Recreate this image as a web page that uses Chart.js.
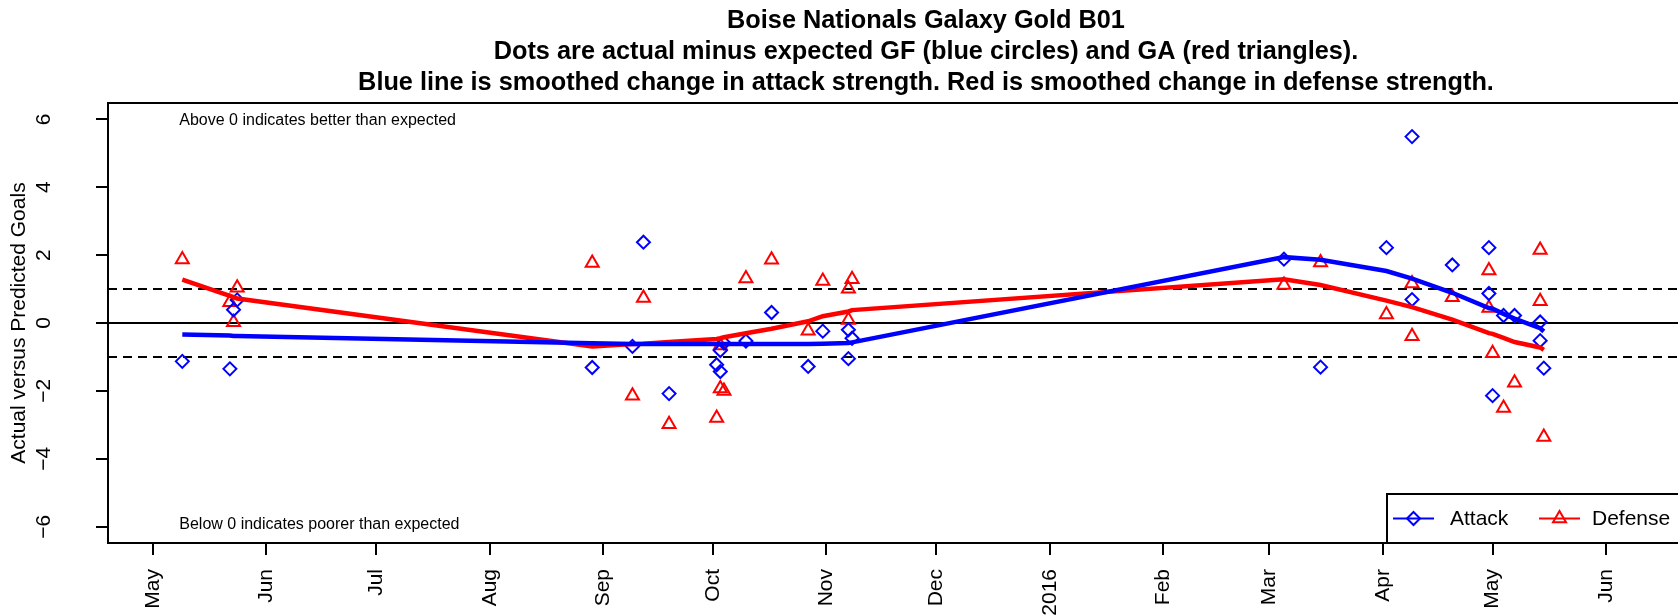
<!DOCTYPE html>
<html>
<head>
<meta charset="utf-8">
<script src="https://cdn.jsdelivr.net/npm/chart.js@4.4.1/dist/chart.umd.min.js"></script>
<style>
html, body { margin: 0; padding: 0; background: #fff; overflow: hidden; }
#wrap { width: 1678px; height: 616px; overflow: hidden; position: relative; }
canvas { display: block; }
</style>
</head>
<body>
<div id="wrap"><canvas id="chart" width="1800" height="616"></canvas></div>
<script>
// chart text
var titleLines = [
  'Boise Nationals Galaxy Gold B01',
  'Dots are actual minus expected GF (blue circles) and GA (red triangles).',
  'Blue line is smoothed change in attack strength. Red is smoothed change in defense strength.'
];
var yTitle = 'Actual versus Predicted Goals';
var noteAbove = 'Above 0 indicates better than expected';
var noteBelow = 'Below 0 indicates poorer than expected';
var seriesNames = ['Attack', 'Defense'];

// one entry per game
var gameDates = [
  '2015-05-09', '2015-05-22', '2015-05-23', '2015-05-24',
  '2015-08-29', '2015-09-09', '2015-09-12', '2015-09-19',
  '2015-10-02', '2015-10-03', '2015-10-03', '2015-10-04',
  '2015-10-10', '2015-10-17', '2015-10-27', '2015-10-31',
  '2015-11-07', '2015-11-07', '2015-11-08',
  '2016-03-05', '2016-03-15', '2016-04-02', '2016-04-09', '2016-04-09',
  '2016-04-20', '2016-04-30', '2016-04-30', '2016-05-01', '2016-05-04',
  '2016-05-07', '2016-05-14', '2016-05-14', '2016-05-15'
];
var attackDiff = [
  -1.13, -1.35, 0.39, 0.68,
  -1.31, -0.69, 2.38, -2.08,
  -1.23, -1.43, -0.81, -0.59,
  -0.53, 0.31, -1.28, -0.24,
  -0.20, -1.05, -0.45,
  1.88, -1.30, 2.22, 5.49, 0.69,
  1.71, 2.22, 0.87, -2.14, 0.22,
  0.22, 0.03, -0.52, -1.33
];
var defenseDiff = [
  1.87, 0.61, 0.02, 1.04,
  1.77, -2.14, 0.74, -2.98,
  -2.80, -1.93, -0.66, -2.00,
  1.31, 1.86, -0.23, 1.24,
  1.01, 0.09, 1.29,
  1.12, 1.78, 0.25, -0.39, 1.16,
  0.76, 1.55, 0.44, -0.89, -2.50,
  -1.76, 2.15, 0.64, -3.36
];
var attackSmooth = [
  -0.34, -0.37, -0.38, -0.38,
  -0.60, -0.62, -0.62, -0.62,
  -0.62, -0.62, -0.62, -0.62,
  -0.62, -0.62, -0.62, -0.61,
  -0.59, -0.59, -0.57,
  1.94, 1.86, 1.53, 1.31, 1.31,
  0.89, 0.44, 0.44, 0.42, 0.27,
  0.13, -0.15, -0.15, -0.25
];
var defenseSmooth = [
  1.28, 0.80, 0.76, 0.72,
  -0.69, -0.62, -0.61, -0.56,
  -0.47, -0.45, -0.45, -0.42,
  -0.30, -0.17, 0.05, 0.20,
  0.34, 0.34, 0.38,
  1.29, 1.12, 0.66, 0.47, 0.47,
  0.10, -0.30, -0.30, -0.32, -0.44,
  -0.56, -0.72, -0.72, -0.79
];

// axes
var monthTicks = ['2015-05-01', '2015-06-01', '2015-07-01', '2015-08-01', '2015-09-01', '2015-10-01',
  '2015-11-01', '2015-12-01', '2016-01-01', '2016-02-01', '2016-03-01', '2016-04-01', '2016-05-01',
  '2016-06-01', '2016-07-01'];
var monthLabels = ['May', 'Jun', 'Jul', 'Aug', 'Sep', 'Oct', 'Nov', 'Dec', '2016', 'Feb', 'Mar', 'Apr', 'May', 'Jun', 'Jul'];
var xLimitsDays = [-12.3, 434.7];   // days after 2015-05-01
var yTicks = [-6, -4, -2, 0, 2, 4, 6];
var yLimits = [-6.48, 6.48];
var refLines = [0, 1, -1];

var BLUE = '#0000ff', RED = '#ff0000';
var FONT = '"Liberation Sans", Arial, Helvetica, sans-serif';
var ORIGIN = Date.UTC(2015, 4, 1);

function dayOf(s) {
  var p = s.split('-');
  return (Date.UTC(+p[0], +p[1] - 1, +p[2]) - ORIGIN) / 864e5;
}
function pts(vals) {
  return gameDates.map(function (d, i) { return { x: dayOf(d), y: vals[i] }; });
}
function fmtY(v) { return v < 0 ? '\u2212' + Math.abs(v) : String(v); }

var decor = {
  id: 'decor',
  beforeDatasetsDraw: function (chart) {
    var ctx = chart.ctx, a = chart.chartArea, ys = chart.scales.y;
    ctx.save();
    ctx.strokeStyle = '#000';
    ctx.lineWidth = 2;
    refLines.forEach(function (v) {
      ctx.setLineDash(v === 0 ? [] : [9, 6]);
      var py = ys.getPixelForValue(v);
      ctx.beginPath(); ctx.moveTo(a.left, py); ctx.lineTo(a.right, py); ctx.stroke();
    });
    ctx.restore();
  },
  afterDraw: function (chart) {
    var ctx = chart.ctx, a = chart.chartArea, xs = chart.scales.x, ys = chart.scales.y;
    ctx.save();
    ctx.strokeStyle = '#000';
    ctx.lineWidth = 2;
    ctx.strokeRect(a.left, a.top, a.right - a.left, a.bottom - a.top);

    // title
    ctx.fillStyle = '#000';
    ctx.textAlign = 'center';
    ctx.textBaseline = 'middle';
    ctx.font = 'bold 25.3px ' + FONT;
    var cx = (a.left + a.right) / 2;
    titleLines.forEach(function (t, i) { ctx.fillText(t, cx, 21.5 + i * 31); });

    // notes
    ctx.font = '16px ' + FONT;
    ctx.textAlign = 'left';
    var nx = xs.getPixelForValue(dayOf(gameDates[0])) - 3;
    ctx.fillText(noteAbove, nx, ys.getPixelForValue(6) + 1);
    ctx.fillText(noteBelow, nx, ys.getPixelForValue(-6) - 2);

    // legend
    var lw = 357, lh = 49;
    var lx = a.right - lw, ly = a.bottom - lh, my = ly + lh / 2;
    ctx.fillStyle = '#fff';
    ctx.fillRect(lx, ly, lw, lh);
    ctx.strokeRect(lx, ly, lw, lh);
    ctx.font = '21px ' + FONT;
    [[BLUE, 'rectRot', 6.5], [RED, 'triangle', 7.5]].forEach(function (it, i) {
      var sx = lx + 6 + i * 146;
      ctx.strokeStyle = it[0];
      ctx.lineWidth = 2;
      ctx.beginPath(); ctx.moveTo(sx, my); ctx.lineTo(sx + 41, my); ctx.stroke();
      ctx.fillStyle = 'rgba(0,0,0,0)';
      Chart.helpers.drawPoint(ctx, { pointStyle: it[1], radius: it[2], borderWidth: 2 }, sx + 20.5, my);
      ctx.fillStyle = '#000';
      ctx.fillText(seriesNames[i], sx + 57 - i * 4, my + 1);
    });
    ctx.restore();
  }
};

var tickFont = { family: FONT, size: 21 };

new Chart(document.getElementById('chart'), {
  type: 'scatter',
  data: {
    datasets: [
      { type: 'line', label: 'Attack smooth', data: pts(attackSmooth), borderColor: BLUE, borderWidth: 4.5,
        pointRadius: 0, tension: 0, fill: false },
      { type: 'line', label: 'Defense smooth', data: pts(defenseSmooth), borderColor: RED, borderWidth: 4.5,
        pointRadius: 0, tension: 0, fill: false },
      { label: 'Attack', data: pts(attackDiff), pointStyle: 'rectRot', pointRadius: 6.5, pointBorderWidth: 2,
        pointBorderColor: BLUE, pointBackgroundColor: 'rgba(0,0,0,0)' },
      { label: 'Defense', data: pts(defenseDiff), pointStyle: 'triangle', pointRadius: 7.5, pointBorderWidth: 2,
        pointBorderColor: RED, pointBackgroundColor: 'rgba(0,0,0,0)' }
    ]
  },
  options: {
    responsive: false,
    animation: false,
    devicePixelRatio: 1,
    events: [],
    layout: { padding: { top: 103, right: 56, bottom: 0, left: 0 } },
    plugins: { legend: { display: false }, title: { display: false }, tooltip: { enabled: false } },
    scales: {
      x: {
        type: 'linear', min: xLimitsDays[0], max: xLimitsDays[1],
        afterBuildTicks: function (s) {
          s.ticks = monthTicks.map(dayOf).filter(function (v) { return v >= s.min && v <= s.max; })
            .map(function (v) { return { value: v }; });
        },
        afterFit: function (s) { s.height = 73; },
        grid: { drawOnChartArea: false, drawTicks: true, tickLength: 12, color: '#000', lineWidth: 2 },
        border: { display: false },
        ticks: {
          autoSkip: false, minRotation: 90, maxRotation: 90, padding: 14, color: '#000', font: tickFont,
          callback: function (v) { return monthLabels[monthTicks.map(dayOf).indexOf(v)]; }
        }
      },
      y: {
        type: 'linear', min: yLimits[0], max: yLimits[1],
        afterBuildTicks: function (s) { s.ticks = yTicks.map(function (v) { return { value: v }; }); },
        afterFit: function (s) { s.width = 108; },
        grid: { drawOnChartArea: false, drawTicks: true, tickLength: 12, color: '#000', lineWidth: 2 },
        border: { display: false },
        ticks: { minRotation: 90, maxRotation: 90, crossAlign: 'center', padding: 40, color: '#000', font: tickFont,
          callback: fmtY },
        title: { display: true, text: yTitle, color: '#000', font: tickFont, padding: { top: 7, bottom: 0 } }
      }
    }
  },
  plugins: [decor]
});
</script>
</body>
</html>
